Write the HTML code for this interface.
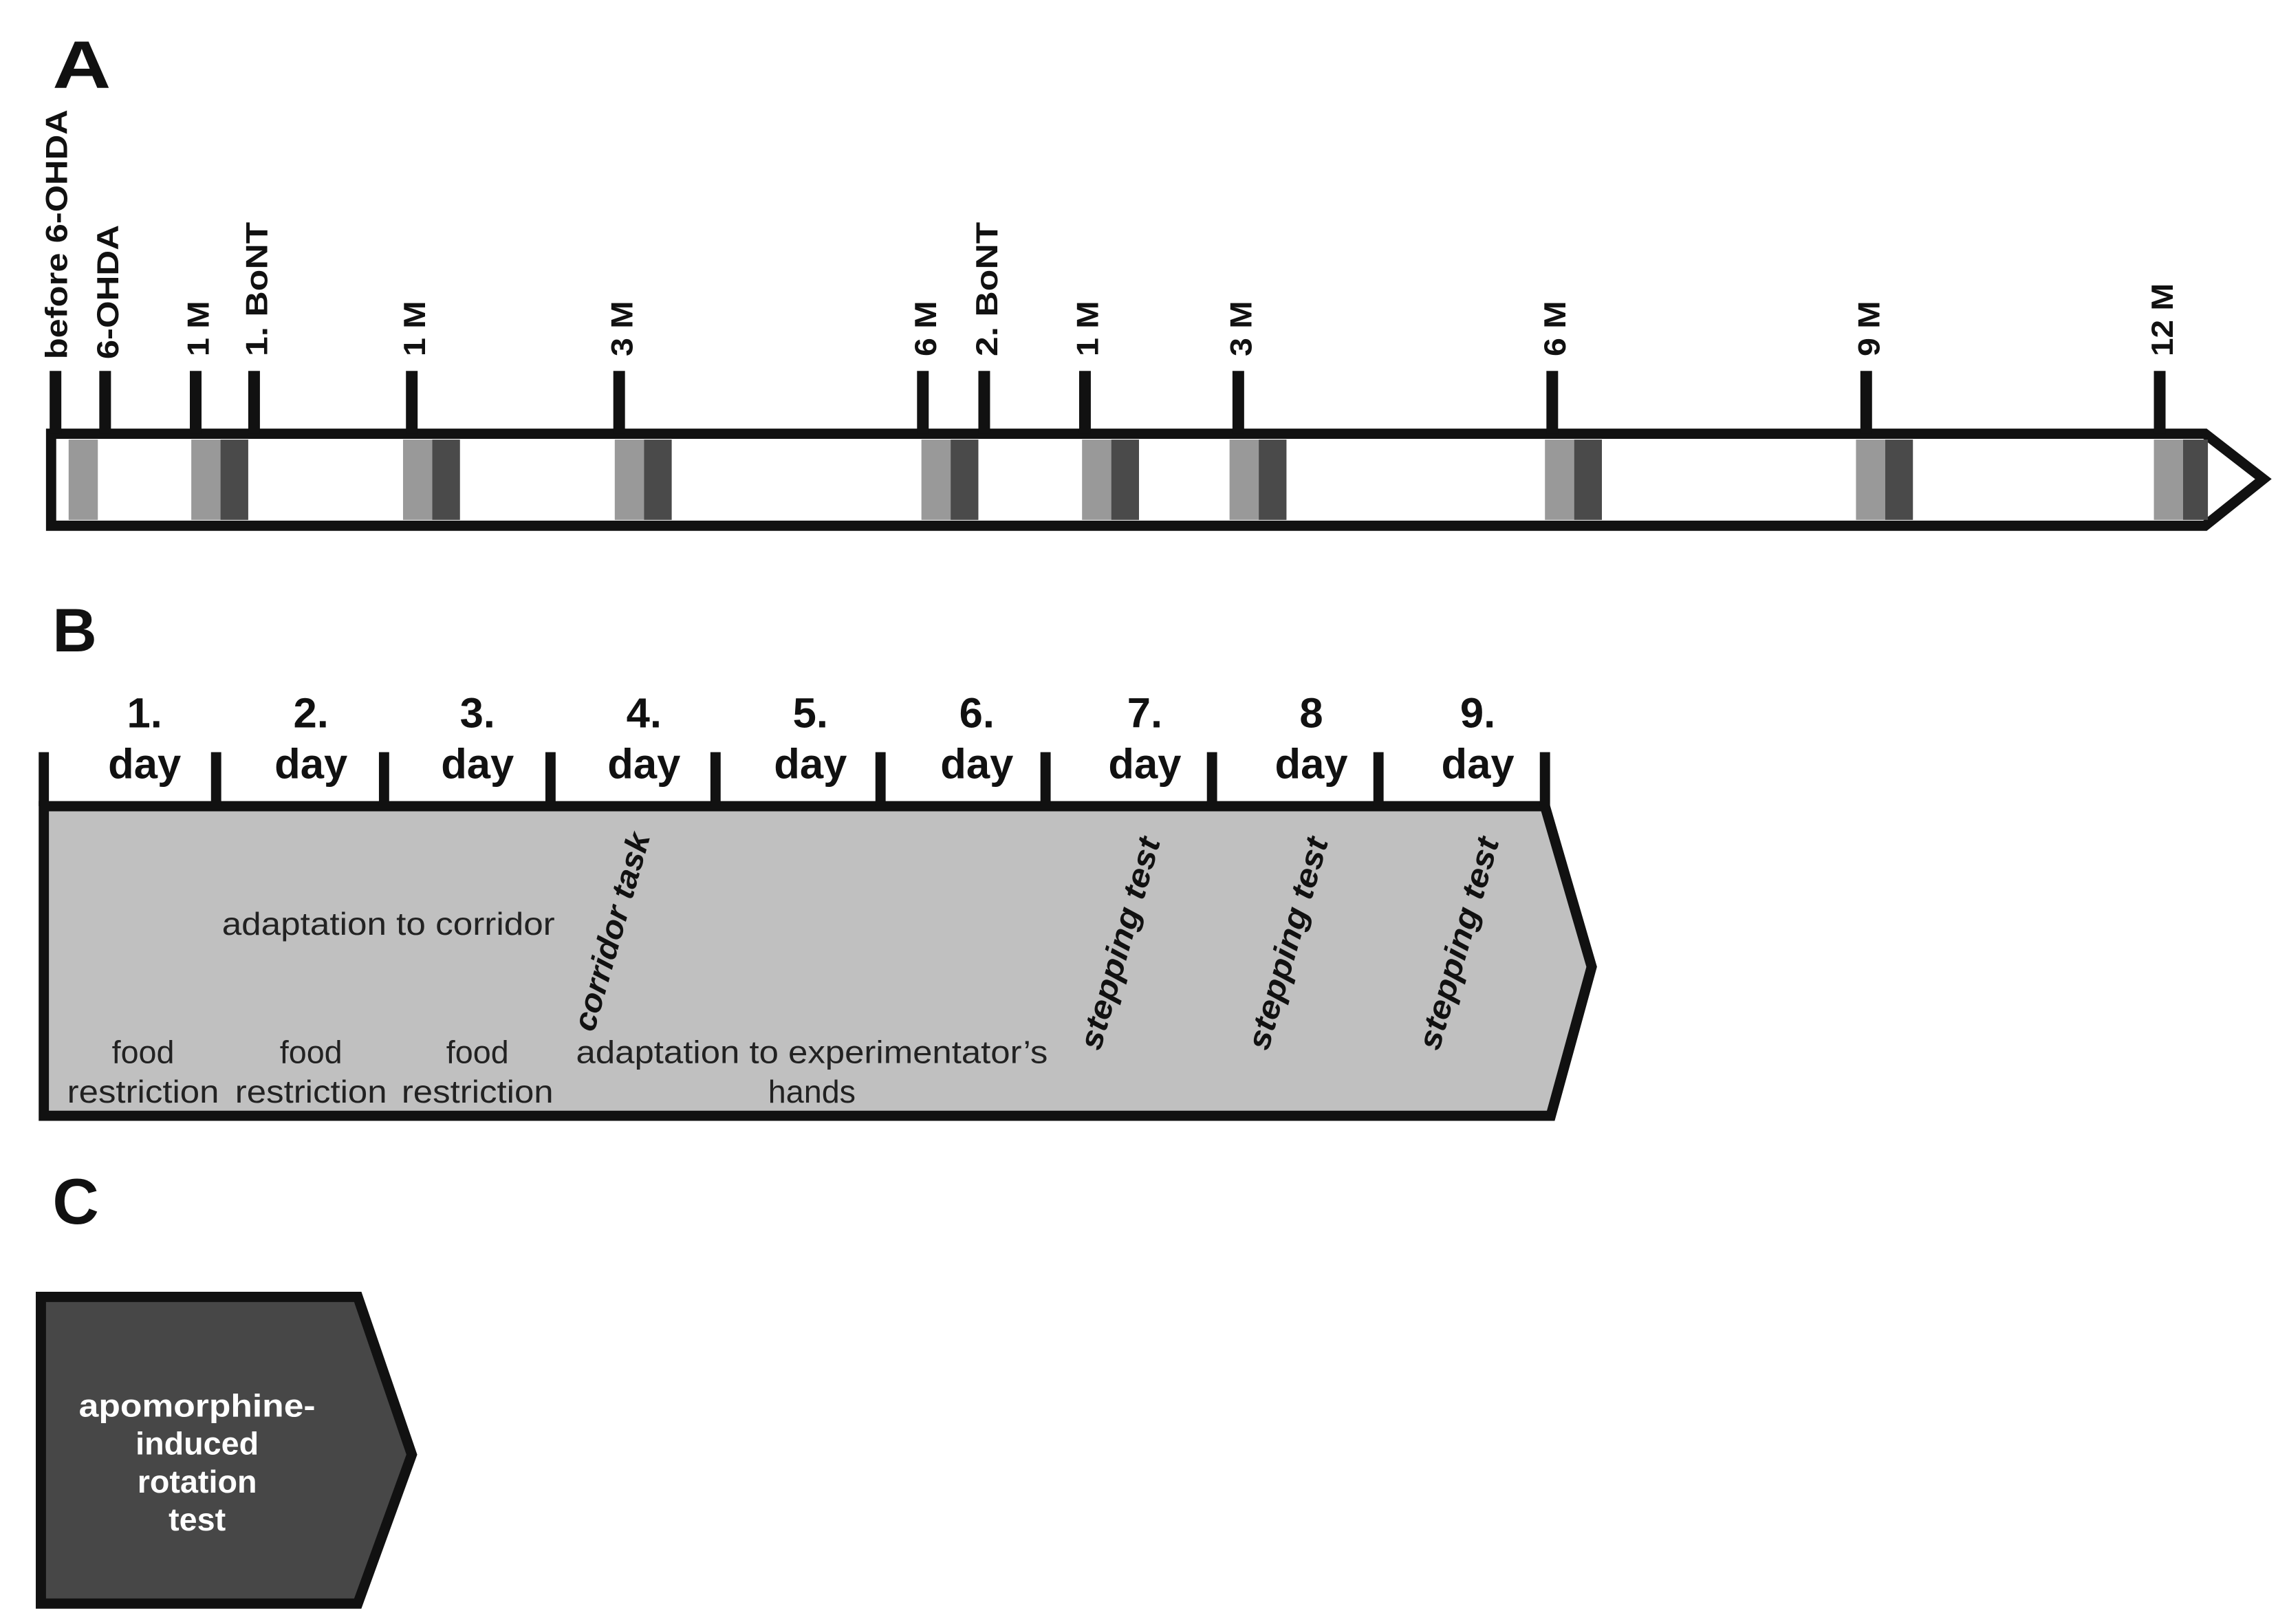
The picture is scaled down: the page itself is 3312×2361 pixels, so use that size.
<!DOCTYPE html>
<html><head><meta charset="utf-8"><style>
html,body{margin:0;padding:0;background:#fff;}
svg{display:block;}
text{font-family:"Liberation Sans",sans-serif;}
</style></head><body>
<svg width="3312" height="2361" viewBox="0 0 1560 1112" preserveAspectRatio="none" xmlns="http://www.w3.org/2000/svg">
<rect width="1560" height="1112" fill="#fff"/>
<!-- Panel A -->
<text x="36" y="60" font-size="46" font-weight="bold" fill="#111" textLength="40" lengthAdjust="spacingAndGlyphs">A</text>
<polygon points="35,297 1510,297 1550,328 1510,360 35,360" fill="#fff" stroke="#111" stroke-width="7" stroke-linejoin="miter"/>
<g>
<rect x="47" y="301" width="20" height="55" fill="#999"/>
<rect x="131" y="301" width="20" height="55" fill="#999"/><rect x="151" y="301" width="19" height="55" fill="#4a4a4a"/>
<rect x="276" y="301" width="20" height="55" fill="#999"/><rect x="296" y="301" width="19" height="55" fill="#4a4a4a"/>
<rect x="421" y="301" width="20" height="55" fill="#999"/><rect x="441" y="301" width="19" height="55" fill="#4a4a4a"/>
<rect x="631" y="301" width="20" height="55" fill="#999"/><rect x="651" y="301" width="19" height="55" fill="#4a4a4a"/>
<rect x="741" y="301" width="20" height="55" fill="#999"/><rect x="761" y="301" width="19" height="55" fill="#4a4a4a"/>
<rect x="842" y="301" width="20" height="55" fill="#999"/><rect x="862" y="301" width="19" height="55" fill="#4a4a4a"/>
<rect x="1058" y="301" width="20" height="55" fill="#999"/><rect x="1078" y="301" width="19" height="55" fill="#4a4a4a"/>
<rect x="1271" y="301" width="20" height="55" fill="#999"/><rect x="1291" y="301" width="19" height="55" fill="#4a4a4a"/>
<rect x="1475" y="301" width="20" height="55" fill="#999"/><rect x="1495" y="301" width="17" height="55" fill="#4a4a4a"/>
</g>
<g stroke="#111" stroke-width="8">
<line x1="38" y1="254" x2="38" y2="297"/>
<line x1="72" y1="254" x2="72" y2="297"/>
<line x1="134" y1="254" x2="134" y2="297"/>
<line x1="174" y1="254" x2="174" y2="297"/>
<line x1="282" y1="254" x2="282" y2="297"/>
<line x1="424" y1="254" x2="424" y2="297"/>
<line x1="632" y1="254" x2="632" y2="297"/>
<line x1="674" y1="254" x2="674" y2="297"/>
<line x1="743" y1="254" x2="743" y2="297"/>
<line x1="848" y1="254" x2="848" y2="297"/>
<line x1="1063" y1="254" x2="1063" y2="297"/>
<line x1="1278" y1="254" x2="1278" y2="297"/>
<line x1="1479" y1="254" x2="1479" y2="297"/>
</g>
<g font-size="21" font-weight="bold" fill="#111">
<text transform="translate(46,246) rotate(-90)" textLength="171" lengthAdjust="spacingAndGlyphs">before 6-OHDA</text>
<text transform="translate(81,246) rotate(-90)" textLength="92" lengthAdjust="spacingAndGlyphs">6-OHDA</text>
<text transform="translate(143,244) rotate(-90)" textLength="38" lengthAdjust="spacingAndGlyphs">1 M</text>
<text transform="translate(183,244) rotate(-90)" textLength="92" lengthAdjust="spacingAndGlyphs">1. BoNT</text>
<text transform="translate(291,244) rotate(-90)" textLength="38" lengthAdjust="spacingAndGlyphs">1 M</text>
<text transform="translate(433,244) rotate(-90)" textLength="38" lengthAdjust="spacingAndGlyphs">3 M</text>
<text transform="translate(641,244) rotate(-90)" textLength="38" lengthAdjust="spacingAndGlyphs">6 M</text>
<text transform="translate(683,244) rotate(-90)" textLength="92" lengthAdjust="spacingAndGlyphs">2. BoNT</text>
<text transform="translate(752,244) rotate(-90)" textLength="38" lengthAdjust="spacingAndGlyphs">1 M</text>
<text transform="translate(857,244) rotate(-90)" textLength="38" lengthAdjust="spacingAndGlyphs">3 M</text>
<text transform="translate(1072,244) rotate(-90)" textLength="38" lengthAdjust="spacingAndGlyphs">6 M</text>
<text transform="translate(1287,244) rotate(-90)" textLength="38" lengthAdjust="spacingAndGlyphs">9 M</text>
<text transform="translate(1488,244) rotate(-90)" textLength="50" lengthAdjust="spacingAndGlyphs">12 M</text>
</g>
<!-- Panel B -->
<text x="36" y="446" font-size="42" font-weight="bold" fill="#111">B</text>
<polygon points="30,552 1058,552 1090,662 1062,764 30,764" fill="#c0c0c0" stroke="#111" stroke-width="7"/>
<g stroke="#111" stroke-width="7">
<line x1="30" y1="515" x2="30" y2="552"/>
<line x1="148" y1="515" x2="148" y2="552"/>
<line x1="263" y1="515" x2="263" y2="552"/>
<line x1="377" y1="515" x2="377" y2="552"/>
<line x1="490" y1="515" x2="490" y2="552"/>
<line x1="603" y1="515" x2="603" y2="552"/>
<line x1="716" y1="515" x2="716" y2="552"/>
<line x1="830" y1="515" x2="830" y2="552"/>
<line x1="944" y1="515" x2="944" y2="552"/>
<line x1="1058" y1="515" x2="1058" y2="552"/>
</g>
<g font-size="29" font-weight="bold" fill="#111" text-anchor="middle">
<text x="99" y="498">1.</text><text x="99" y="533">day</text>
<text x="213" y="498">2.</text><text x="213" y="533">day</text>
<text x="327" y="498">3.</text><text x="327" y="533">day</text>
<text x="441" y="498">4.</text><text x="441" y="533">day</text>
<text x="555" y="498">5.</text><text x="555" y="533">day</text>
<text x="669" y="498">6.</text><text x="669" y="533">day</text>
<text x="784" y="498">7.</text><text x="784" y="533">day</text>
<text x="898" y="498">8</text><text x="898" y="533">day</text>
<text x="1012" y="498">9.</text><text x="1012" y="533">day</text>
</g>
<g font-size="22" fill="#222" text-anchor="middle" lengthAdjust="spacingAndGlyphs">
<text x="266" y="640" textLength="228" lengthAdjust="spacingAndGlyphs">adaptation to corridor</text>
<text x="98" y="728">food</text><text x="98" y="755" textLength="104" lengthAdjust="spacingAndGlyphs">restriction</text>
<text x="213" y="728">food</text><text x="213" y="755" textLength="104" lengthAdjust="spacingAndGlyphs">restriction</text>
<text x="327" y="728">food</text><text x="327" y="755" textLength="104" lengthAdjust="spacingAndGlyphs">restriction</text>
<text x="556" y="728" textLength="323" lengthAdjust="spacingAndGlyphs">adaptation to experimentator’s</text>
<text x="556" y="755">hands</text>
</g>
<g font-size="22" font-weight="bold" font-style="italic" fill="#111" text-anchor="middle">
<text transform="translate(426,640) rotate(-74)" textLength="140" lengthAdjust="spacingAndGlyphs">corridor task</text>
<text transform="translate(774,648) rotate(-74)" textLength="150" lengthAdjust="spacingAndGlyphs">stepping test</text>
<text transform="translate(889,648) rotate(-74)" textLength="150" lengthAdjust="spacingAndGlyphs">stepping test</text>
<text transform="translate(1006,648) rotate(-74)" textLength="150" lengthAdjust="spacingAndGlyphs">stepping test</text>
</g>
<!-- Panel C -->
<text x="36" y="838" font-size="44" font-weight="bold" fill="#111">C</text>
<polygon points="28,888 245,888 282,996 245,1098 28,1098" fill="#474747" stroke="#111" stroke-width="7"/>
<g font-size="22" font-weight="bold" fill="#fff" text-anchor="middle">
<text x="135" y="970" textLength="162" lengthAdjust="spacingAndGlyphs">apomorphine-</text>
<text x="135" y="996">induced</text>
<text x="135" y="1022">rotation</text>
<text x="135" y="1048">test</text>
</g>
</svg>
</body></html>
